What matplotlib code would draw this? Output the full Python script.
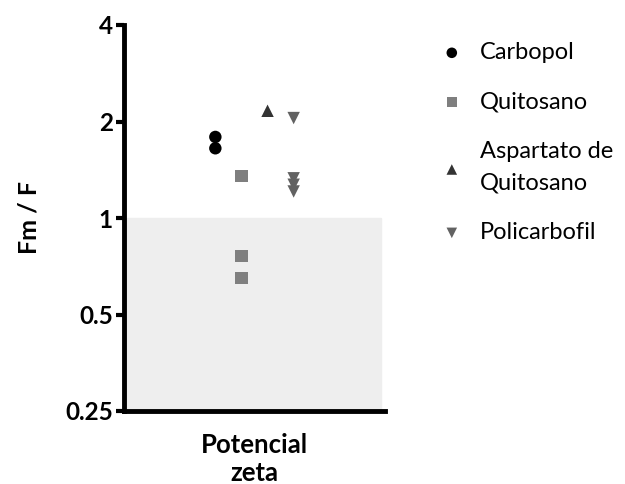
import numpy as np
import matplotlib.pyplot as plt

# Data (Fm / F, log2 axis)
groups = ["Carbopol", "Quitosano", "Aspartato de\nQuitosano", "Policarbofil"]
carbopol = [1.79, 1.65]
quitosano = [1.35, 0.76, 0.65]
aspartato = [2.16]
policarbofil = [2.05, 1.33, 1.27, 1.21]
x_pos = [3.5, 4.5, 5.5, 6.5]
series = [carbopol, quitosano, aspartato, policarbofil]
markers = ["o", "s", "^", "v"]
colors = ["#000000", "#7f7f7f", "#333333", "#626262"]
yticks = [0.25, 0.5, 1, 2, 4]
yticklabels = ["0.25", "0.5", "1", "2", "4"]

plt.rcParams['font.family'] = ['Lato', 'DejaVu Sans']

fig = plt.figure(figsize=(6.25, 4.84), dpi=100)
ax = fig.add_axes([124 / 625, 1 - 411 / 484, 261 / 625, 386 / 484])

ax.axhspan(0.25, 1, xmin=0, xmax=0.985, color="#eeeeee", zorder=0)

handles = []
for name, vals, x, m, c in zip(groups, series, x_pos, markers, colors):
    h = ax.scatter([x] * len(vals), vals, marker=m, s=80, color=c,
                   edgecolors="none", label=name, zorder=3)
    handles.append(h)

ax.set_yscale("log", base=2)
ax.set_ylim(0.25, 4)
ax.set_xlim(0, 10)
ax.set_yticks(yticks)
ax.set_yticklabels(yticklabels)
ax.minorticks_off()
ax.set_xticks([5])
ax.set_xticklabels(["Potencial\nzeta"], fontsize=18.5, fontweight="bold",
                   linespacing=1.2)
ax.tick_params(axis="x", length=0, pad=16)
ax.tick_params(axis="y", length=6, width=3, labelsize=17.5, pad=2)
for lbl in ax.get_yticklabels():
    lbl.set_fontweight("bold")

for s in ["top", "right"]:
    ax.spines[s].set_visible(False)
for s in ["left", "bottom"]:
    ax.spines[s].set_linewidth(3.5)

ax.set_ylabel("Fm / F", fontsize=18, fontweight="bold", labelpad=18)

leg = fig.legend(handles=handles, loc="upper left",
                 bbox_to_anchor=(440 / 625, 1 - 42 / 484),
                 frameon=False, fontsize=17, handletextpad=0.7, handlelength=1.0,
                 labelspacing=1.2, markerscale=0.85, borderaxespad=0, borderpad=0)
for t in leg.get_texts():
    t.set_linespacing(1.65)

fig.savefig("out.png", dpi=100)
